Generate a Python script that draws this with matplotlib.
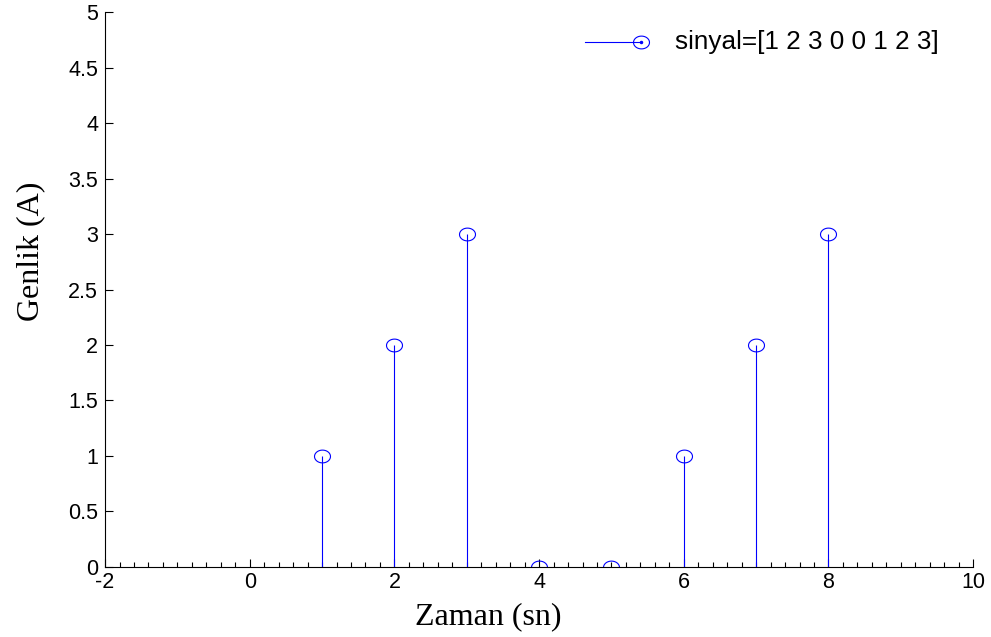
import numpy as np
import matplotlib
matplotlib.use('Agg')
import matplotlib.pyplot as plt
from matplotlib.path import Path
from matplotlib.ticker import MultipleLocator

# veri
zaman = [1, 2, 3, 4, 5, 6, 7, 8]
sinyal = [1, 2, 3, 0, 0, 1, 2, 3]
etiket = 'sinyal=[1 2 3 0 0 1 2 3]'

# hafif basik daire (MATLAB görünümü)
t = np.linspace(0, 2 * np.pi, 60)
elips = Path(np.column_stack([np.cos(t), 0.8 * np.sin(t)]), closed=True)

plt.rcParams['font.family'] = ['Liberation Sans', 'DejaVu Sans']
plt.rcParams['axes.unicode_minus'] = False

fig = plt.figure(figsize=(9.91, 6.37), dpi=100)
ax = fig.add_axes([0.106, 0.110, 0.876, 0.871])

ml, sl, bl = ax.stem(zaman, sinyal, basefmt=' ')
plt.setp(sl, color='blue', linewidth=0.8)
plt.setp(ml, marker=elips, markersize=11.5, markerfacecolor='none',
         markeredgecolor='blue', markeredgewidth=0.8)

ax.set_xlim(-2, 10)
ax.set_ylim(0, 5)
ax.xaxis.set_major_locator(MultipleLocator(2))
ax.xaxis.set_minor_locator(MultipleLocator(0.2))
ax.set_yticks(np.arange(0, 5.01, 0.5))
ax.set_yticklabels(['0', '0.5', '1', '1.5', '2', '2.5', '3', '3.5', '4', '4.5', '5'])

ax.spines['top'].set_visible(False)
ax.spines['right'].set_visible(False)
ax.tick_params(which='both', direction='in', labelsize=15.5)
ax.tick_params(which='major', length=6, width=0.8)
ax.tick_params(which='minor', length=3.5, width=0.8)
ax.tick_params(axis='x', pad=4)
ax.tick_params(axis='y', pad=5)

ax.set_xlabel('Zaman (sn)', family='Liberation Serif', fontsize=23)
ax.set_ylabel('Genlik (A)', family='Liberation Serif', fontsize=23)
ax.xaxis.set_label_coords(0.441, -0.09)
ax.yaxis.set_label_coords(-0.086, 0.569)
ax.xaxis.label.set_va('center')
ax.yaxis.label.set_va('center')

# lejant (MATLAB tarzı: çizgi + uçta işaret)
ax.plot([0.553, 0.6175], [0.946, 0.946], color='blue', linewidth=0.8,
        transform=ax.transAxes, clip_on=False)
ax.plot([0.6175], [0.946], marker=elips, markersize=11.5, markerfacecolor='none',
        markeredgecolor='blue', markeredgewidth=0.8, transform=ax.transAxes, clip_on=False)
ax.plot([0.6175], [0.946], marker='.', markersize=3, color='blue',
        transform=ax.transAxes, clip_on=False)
ax.text(0.657, 0.946, etiket, transform=ax.transAxes, fontsize=18.8, va='center', ha='left')

plt.savefig('out.png', dpi=100)
